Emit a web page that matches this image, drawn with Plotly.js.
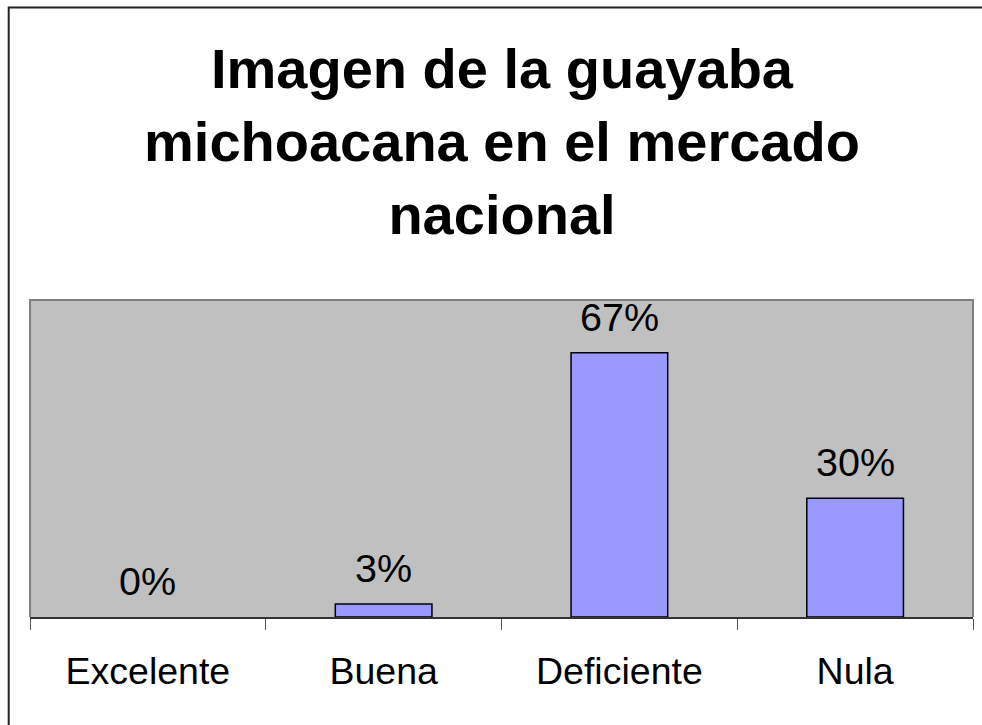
<!DOCTYPE html>
<html>
<head>
<meta charset="utf-8">
<script src="https://cdn.plot.ly/plotly-3.0.1.min.js"></script>
<style>
  html, body { margin: 0; padding: 0; background: #fff; }
  #chart { width: 982px; height: 725px; }
</style>
</head>
<body>
<div id="chart"></div>
<script>
const categories = ["Excelente", "Buena", "Deficiente", "Nula"];
const values = [0, 3.3, 66.7, 30];
const labels = ["0%", "3%", "67%", "30%"];
const titleText = "Imagen de la guayaba<br>michoacana en el mercado<br>nacional";

const W = 982, H = 725;
const M = { l: 30, r: 9, t: 300, b: 108, pad: 0 };
const pw = W - M.l - M.r, ph = H - M.t - M.b;
const px = v => (v - M.l) / pw;            // pixel x -> paper x
const py = v => (H - M.b - v) / ph;        // pixel y -> paper y

const font = "Liberation Sans, Arial, sans-serif";

const trace = {
  type: "bar",
  x: categories,
  y: values,
  marker: {
    color: "#9999ff",
    line: { color: "#000000", width: values.map(v => (v > 0 ? 1.5 : 0)) }
  },
  hoverinfo: "skip"
};

const annotations = categories.map((c, i) => ({
  x: c, y: values[i], xref: "x", yref: "y",
  text: labels[i], showarrow: false,
  yanchor: "bottom", yshift: 12,
  font: { family: font, size: 39.5, color: "#000" }
}));

const layout = {
  width: W, height: H,
  margin: M,
  paper_bgcolor: "#ffffff",
  plot_bgcolor: "#c0c0c0",
  showlegend: false,
  bargap: 0.59,
  title: {
    text: titleText,
    font: { family: font, size: 56, color: "#000", weight: "bold" },
    x: (31 + 973) / 2 / W, xanchor: "center",
    y: 1 - 88 / H, yanchor: "top", yref: "container"
  },
  xaxis: {
    type: "category",
    tickson: "boundaries",
    ticks: "outside", ticklen: 11, tickwidth: 1, tickcolor: "#555",
    showline: true, linecolor: "#333", linewidth: 2,
    showgrid: false, zeroline: false,
    tickfont: { family: font, size: 37.5, color: "#000" },
    ticklabelstandoff: 20,
    fixedrange: true
  },
  yaxis: {
    range: [0, 80],
    showticklabels: false, ticks: "",
    showgrid: false, zeroline: false, showline: false,
    fixedrange: true
  },
  annotations: annotations,
  shapes: [
    { type: "path", xref: "paper", yref: "paper",
      path: "M 0,0 L 0,1 L 1,1 L 1,0",
      line: { color: "#808080", width: 2 }, layer: "above" },
    { type: "path", xref: "paper", yref: "paper",
      path: `M ${px(8.7)},${py(740)} L ${px(8.7)},${py(7.5)} L ${px(995)},${py(7.5)}`,
      line: { color: "#222", width: 2 }, layer: "above" }
  ]
};

Plotly.newPlot("chart", [trace], layout, { displayModeBar: false, staticPlot: true });
</script>
</body>
</html>
